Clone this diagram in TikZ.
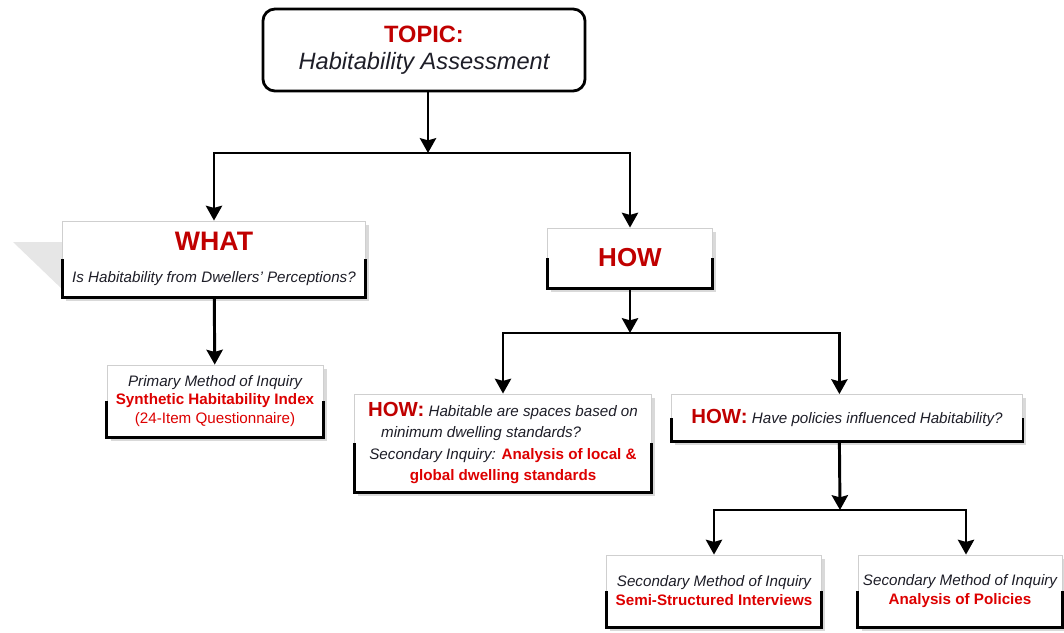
\documentclass[tikz,border=0pt]{standalone}
\usepackage{fontspec}
\setmainfont{Liberation Sans}
\usetikzlibrary{arrows.meta, shadows}
\definecolor{head-red}{HTML}{C00000}
\definecolor{bright-red}{HTML}{DD0000}
\definecolor{ink}{HTML}{1E1E28}
\definecolor{rim-gray}{HTML}{CFCFCF}
\definecolor{ghost}{HTML}{E6E6E6}

\begin{document}
\begin{tikzpicture}[x=0.025cm, y=-0.025cm,
    box/.style={draw=rim-gray, line width=0.6pt, fill=white, align=center,
      inner sep=0pt, text=ink,
      drop shadow={shadow xshift=0.09cm, shadow yshift=-0.09cm, opacity=0.3}},
    rim/.style={line width=2.1pt},
    arr/.style={line width=2.1pt, -{Stealth[width=11.5pt, length=10.5pt, inset=1.5pt]}},
    txt/.style={font=\fontsize{10.8}{13.2}\selectfont}]
    % Diagram: topic box, WHAT / HOW branches, methods below.
    % Coordinates in pixels of a 1064 x 632 canvas (y grows down)
    %   topic at (424,49), what at (214,257), how at (630,258)
    %   junctions at y=153, y=333, y=510
    \useasboundingbox (0,0) rectangle (1064,632);
    \fill[ghost] (13,242) -- (63,242) -- (63,290) -- cycle;

    \node[draw, line width=2pt, rounded corners=0.3cm, fill=white,
          minimum width=8.05cm, minimum height=2.05cm, align=center,
          font=\fontsize{16.8}{14.5}\selectfont] (topic) at (424,50)
          {\textcolor{head-red}{\bfseries TOPIC:}\\[5pt] \textcolor{ink}{\itshape Habitability Assessment}};

    \node[box, txt, minimum width=7.575cm, minimum height=1.9cm] (what) at (214,259)
          {{\fontsize{19}{18}\selectfont\bfseries\color{head-red}WHAT}\\[10pt]
           \itshape Is Habitability from Dwellers' Perceptions?};
    \node[box, minimum width=4.125cm, minimum height=1.5cm,
          font=\fontsize{18.5}{18}\selectfont\bfseries, text=head-red] (how) at (630,258) {HOW};

    \node[box, txt, minimum width=5.4cm, minimum height=1.8cm] (prim) at (215,401)
          {\itshape Primary Method of Inquiry\\
           \textcolor{bright-red}{\bfseries Synthetic Habitability Index}\\
           \textcolor{bright-red}{(24-Item Questionnaire)}};

    \node[box, font=\fontsize{10.8}{15}\selectfont, minimum width=7.425cm,
          minimum height=2.45cm] (spaces) at (503,443)
          {\textcolor{head-red}{\fontsize{14.5}{15}\selectfont\bfseries HOW:} \itshape Habitable are spaces based on\\
           \mbox{\itshape minimum dwelling standards?\hspace{31pt}}\\
           \itshape Secondary Inquiry: \textcolor{bright-red}{\upshape\bfseries Analysis of local \&}\\
           \textcolor{bright-red}{\bfseries global dwelling standards}};
    \node[box, txt, minimum width=8.775cm, minimum height=1.175cm] (policy) at (847,418)
          {\textcolor{head-red}{\fontsize{14.5}{15}\selectfont\bfseries HOW:} \itshape Have policies influenced Habitability?};

    \node[box, font=\fontsize{10.8}{13.5}\selectfont, minimum width=5.375cm,
          minimum height=1.8cm] (semi) at (714,591)
          {\itshape Secondary Method of Inquiry\\
           \textcolor{bright-red}{\bfseries Semi-Structured Interviews}};
    \node[box, font=\fontsize{10.8}{13.5}\selectfont, minimum width=5.1cm,
          minimum height=1.8cm] (analysis) at (960,591)
          {\itshape Secondary Method of Inquiry\\
           \textcolor{bright-red}{\bfseries Analysis of Policies}};

    % heavy lower rims
    \foreach \n in {what, how, prim, spaces, policy, semi, analysis}
      \draw[rim] (\n.west) |- (\n.south east) -- (\n.east);

    % connectors
    \coordinate (j1) at (428,153);
    \coordinate (j2) at (630,333);
    \coordinate (j3) at (840,510);
    \draw[arr] (topic.south -| j1) -- (j1);
    \draw[arr] (j1) -| (what.north);
    \draw[arr] (j1) -| (how.north);
    \draw[arr] (what) -- (prim);
    \draw[arr] (how) -- (j2);
    \draw[arr] (j2) -| (spaces.north);
    \draw[arr] (j2) -| ([xshift=-0.19cm]policy.north);
    \draw[arr] ([xshift=-0.19cm]policy.south) -- (j3);
    \draw[arr] (j3) -| (semi.north);
    \draw[arr] (j3) -| ([xshift=0.15cm]analysis.north);
\end{tikzpicture}
\end{document}
